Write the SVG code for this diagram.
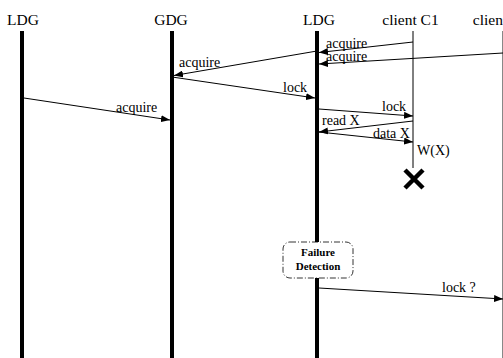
<svg xmlns="http://www.w3.org/2000/svg" width="503" height="358" viewBox="0 0 503 358">
<style>
.hd{font-family:"Liberation Serif",serif;font-size:15.5px;fill:#000;text-anchor:middle}
.lb{font-family:"Liberation Serif",serif;font-size:14px;fill:#000}
.fd{font-family:"Liberation Serif",serif;font-size:11px;font-weight:bold;fill:#000;text-anchor:middle}
.life{stroke:#000;stroke-width:4;fill:none}
.thin{stroke:#000;stroke-width:1;fill:none}
.msg{stroke:#000;stroke-width:1;fill:none;marker-end:url(#ah)}
</style>
<defs>
<marker id="ah" markerUnits="userSpaceOnUse" markerWidth="9" markerHeight="7" refX="9" refY="3.5" orient="auto">
<path d="M0,0 L9,3.5 L0,7 z" fill="#000"/>
</marker>
</defs>
<rect width="503" height="358" fill="#fff"/>
<g id="ldg1">
<text class="hd" x="23" y="25">LDG</text>
<line class="life" x1="22" y1="31" x2="22" y2="358"/>
</g>
<g id="gdg">
<text class="hd" x="171" y="25">GDG</text>
<line class="life" x1="172" y1="31" x2="172" y2="358"/>
</g>
<g id="ldg2">
<text class="hd" x="319" y="25">LDG</text>
<line class="life" x1="317" y1="31" x2="317" y2="358"/>
</g>
<g id="c1">
<text class="hd" x="410.5" y="25">client C1</text>
<line class="thin" x1="413" y1="31" x2="413" y2="168"/>
<path d="M405,170 L423,188 M423,170 L405,188" stroke="#000" stroke-width="4.5" fill="none"/>
</g>
<g id="c2">
<text class="hd" x="501" y="25">client C2</text>
<line x1="502.5" y1="31" x2="502.5" y2="358" stroke="#888" stroke-width="1"/>
</g>
<g id="connectors">
<line class="msg" x1="413" y1="42" x2="319" y2="52.5"/>
<text class="lb" x="326" y="48">acquire</text>
<line class="msg" x1="503" y1="53" x2="319" y2="64"/>
<text class="lb" x="326" y="61">acquire</text>
<line class="msg" x1="317" y1="51" x2="174" y2="75.5"/>
<text class="lb" x="179" y="67">acquire</text>
<line class="msg" x1="172" y1="77" x2="315" y2="98"/>
<text class="lb" x="283" y="92">lock</text>
<line class="msg" x1="24" y1="98" x2="170" y2="120"/>
<text class="lb" x="116" y="112">acquire</text>
<line class="msg" x1="319" y1="109" x2="413" y2="116"/>
<text class="lb" x="382" y="111">lock</text>
<line class="msg" x1="413" y1="121" x2="319" y2="132"/>
<text class="lb" x="322" y="125">read X</text>
<line class="msg" x1="319" y1="132" x2="413" y2="142"/>
<text class="lb" x="373" y="138">data X</text>
<text class="lb" x="417" y="155">W(X)</text>
<line class="msg" x1="319" y1="288" x2="503" y2="299"/>
<text class="lb" x="442" y="292">lock ?</text>
</g>
<g id="failure">
<rect x="283" y="242" width="70" height="36" rx="7" ry="7" fill="#fff" stroke="#000" stroke-width="0.8" stroke-dasharray="6,2,1,2"/>
<text class="fd" x="318" y="256">Failure</text>
<text class="fd" x="318" y="270">Detection</text>
</g>
</svg>
